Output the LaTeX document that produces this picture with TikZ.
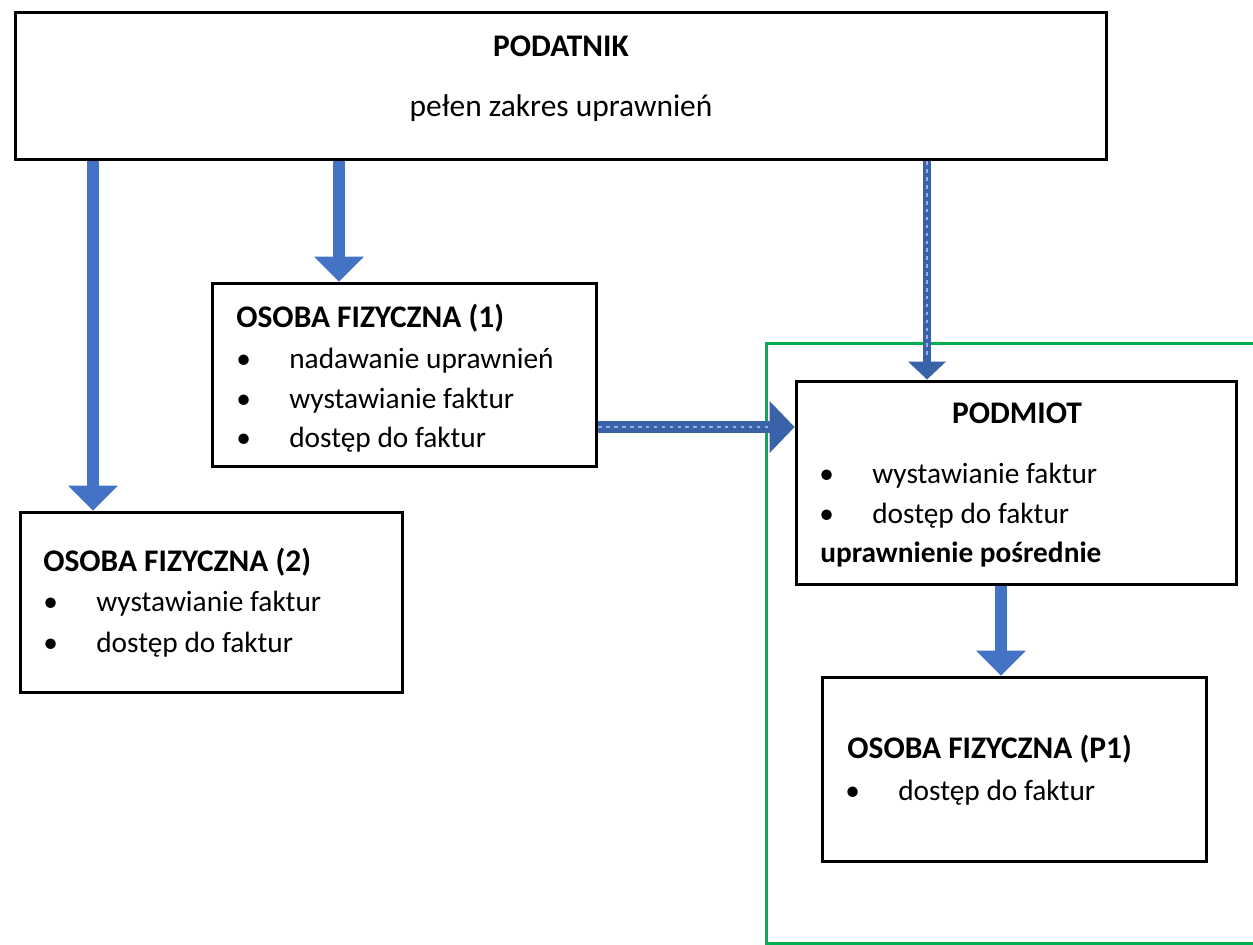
\documentclass[tikz,border=0pt]{standalone}
\usepackage{fontspec}
\setmainfont{Carlito}
\usetikzlibrary{arrows.meta}
\definecolor{niebieski}{HTML}{4472C4}
\definecolor{ciemny}{HTML}{3A62A8}
\definecolor{zielony}{HTML}{00B050}
\tikzset{
  ramka/.style={draw, line width=0.06cm, inner sep=0pt},
  tytul/.style={anchor=base west, inner sep=0pt, font=\fontsize{17.9}{21}\selectfont\bfseries},
  tekst/.style={anchor=base west, inner sep=0pt, font=\fontsize{16.7}{20}\selectfont},
  strzalka/.style={niebieski, line width=0.24cm, -{Triangle[width=1.0cm,length=0.5cm,line width=0pt]}},
  tekstura/.style={ciemny, postaction={draw=niebieski!55!white, line width=1.4pt, dash pattern=on 2pt off 2.5pt, shorten >=0.5cm, -}}
}
\newcommand{\kropka}{\makebox[1.06cm][l]{\textbullet}}

\begin{document}
\begin{tikzpicture}[x=0.02cm, y=-0.02cm]
\useasboundingbox (0,0) rectangle (1253,944);

\draw[zielony, line width=0.06cm] (1260,343) -- (766,343) -- (766,943) -- (1260,943);

\node[ramka, minimum width=21.84cm, minimum height=2.96cm] (podatnik) at (561,86) {};
\node[ramka, minimum width=7.70cm, minimum height=3.68cm] (osoba1) at (404.5,375) {};
\node[ramka, minimum width=7.66cm, minimum height=3.62cm] (osoba2) at (211.5,602.5) {};
\node[ramka, minimum width=8.82cm, minimum height=4.08cm] (podmiot) at (1016.5,483) {};
\node[ramka, minimum width=7.70cm, minimum height=3.68cm] (osobap1) at (1014.5,769) {};

\node[tytul, anchor=base] (podatnikTytul) at (561,56.7) {PODATNIK};
\node[tytul, anchor=base, font=\fontsize{17.9}{21}\selectfont] (podatnikOpis) at (561,116.7) {pełen zakres uprawnień};

\node[tytul] (osoba1Tytul) at (236,327) {OSOBA FIZYCZNA (1)};
\node[tekst] (osoba1a) at (236,368) {\kropka nadawanie uprawnień};
\node[tekst] (osoba1b) at (236,408) {\kropka wystawianie faktur};
\node[tekst] (osoba1c) at (236,447) {\kropka dostęp do faktur};

\node[tytul] (osoba2Tytul) at (43,571.7) {OSOBA FIZYCZNA (2)};
\node[tekst] (osoba2a) at (43,611.7) {\kropka wystawianie faktur};
\node[tekst] (osoba2b) at (43,652.7) {\kropka dostęp do faktur};

\node[tytul, anchor=base] (podmiotTytul) at (1017,423) {PODMIOT};
\node[tekst] (podmiota) at (819,483) {\kropka wystawianie faktur};
\node[tekst] (podmiotb) at (819,523) {\kropka dostęp do faktur};
\node[tekst, font=\fontsize{16.7}{20}\selectfont\bfseries] (podmiotc) at (820,562) {uprawnienie pośrednie};

\node[tytul] (osobap1Tytul) at (847,758) {OSOBA FIZYCZNA (P1)};
\node[tekst] (osobap1a) at (845,800) {\kropka dostęp do faktur};

\coordinate (s1) at (93,0);
\coordinate (s2) at (339,0);
\coordinate (s3) at (927,0);
\coordinate (s4) at (0,427);
\coordinate (s5) at (1001,0);

\draw[strzalka] (s1 |- podatnik.south) -- (s1 |- osoba2.north);
\draw[strzalka] (s2 |- podatnik.south) -- (s2 |- osoba1.north);
\draw[strzalka, tekstura, line width=0.16cm, -{Triangle[width=0.76cm,length=0.36cm,line width=0pt]}] (s3 |- podatnik.south) -- (s3 |- podmiot.north);
\draw[strzalka, tekstura, -{Triangle[width=1.04cm,length=0.5cm,line width=0pt]}] (s4 -| osoba1.east) -- (s4 -| podmiot.west);
\draw[strzalka] (s5 |- podmiot.south) -- (s5 |- osobap1.north);
\end{tikzpicture}
\end{document}
